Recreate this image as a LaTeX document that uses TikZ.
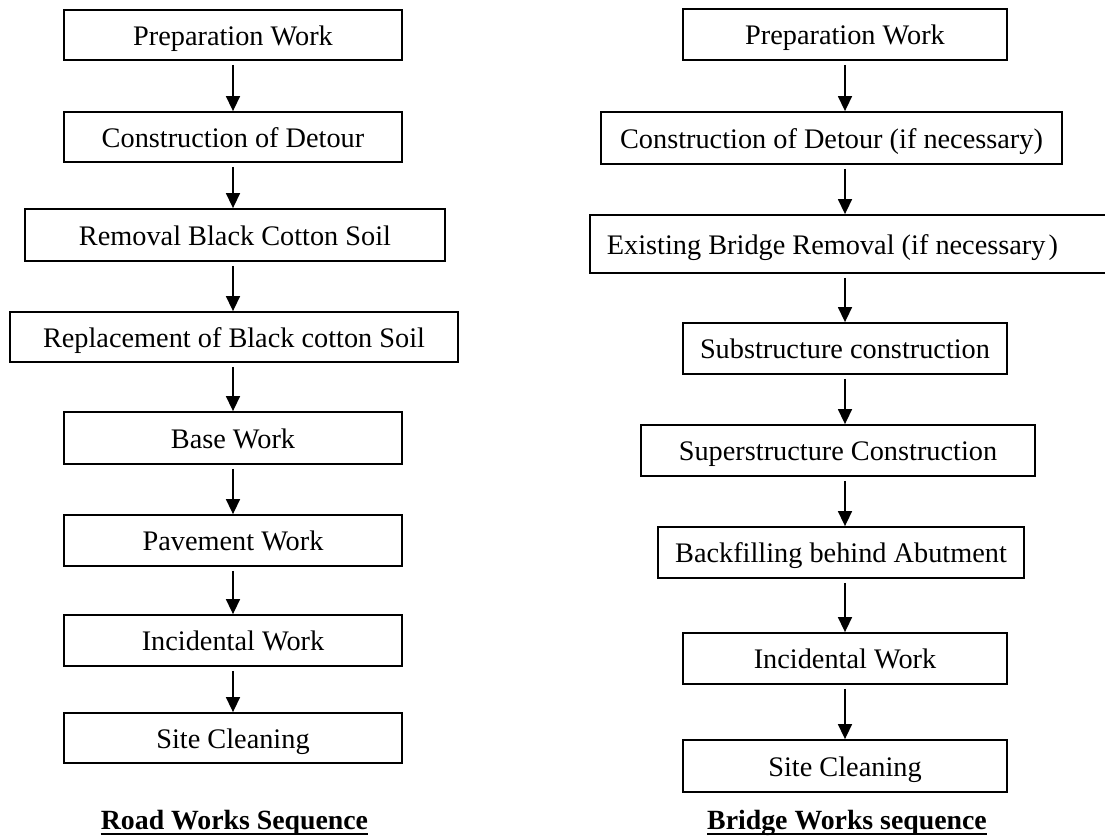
\documentclass[tikz,border=0pt]{standalone}
\usepackage{fontspec}
\setmainfont{Liberation Serif}
\usetikzlibrary{arrows.meta}
\begin{document}
\begin{tikzpicture}[x=1pt,y=-1pt]
\tikzset{
  box/.style={draw, line width=1.8pt, rectangle, inner sep=0pt,
    text height=21pt, text depth=1pt, font=\fontsize{28.3}{34}\selectfont},
  arr/.style={line width=1.5pt, -{Triangle[width=14pt,length=15pt]}, shorten <=4pt},
  ttl/.style={font=\fontsize{27.8}{34}\selectfont\bfseries, inner sep=0pt, anchor=base},
  uline/.style={line width=1.5pt}
}
\useasboundingbox (0,0) rectangle (1105,836);
\clip (0,0) rectangle (1105,836);
\coordinate (cl) at (233,0);
\coordinate (cr) at (845,0);
% left column
\node[box, minimum width=338pt, minimum height=50pt] (L1) at (233,35) {Preparation Work};
\node[box, minimum width=338pt, minimum height=50pt] (L2) at (233,137) {Construction of Detour};
\node[box, minimum width=420pt, minimum height=52pt] (L3) at (235,235) {Removal Black Cotton Soil};
\node[box, minimum width=448pt, minimum height=50pt] (L4) at (234,337) {Replacement of Black cotton Soil};
\node[box, minimum width=338pt, minimum height=52pt] (L5) at (233,438) {Base Work};
\node[box, minimum width=338pt, minimum height=51pt] (L6) at (233,540.5) {Pavement Work};
\node[box, minimum width=338pt, minimum height=51pt] (L7) at (233,640.5) {Incidental Work};
\node[box, minimum width=338pt, minimum height=50pt] (L8) at (233,738) {Site Cleaning};
\node[ttl] (TL) at (234.5,829) {Road Works Sequence};
\draw[uline] ([yshift=-5pt]TL.base west) -- ([yshift=-5pt]TL.base east);
\foreach \a/\b in {L1/L2,L2/L3,L3/L4,L4/L5,L5/L6,L6/L7,L7/L8}
  \draw[arr] (\a.south -| cl) -- (\b.north -| cl);
% right column
\node[box, minimum width=324pt, minimum height=51pt] (R1) at (845,34.5) {Preparation Work};
\node[box, minimum width=461pt, minimum height=52pt] (R2) at (831.5,138) {Construction of Detour (if necessary)};
\node[box, minimum width=531pt, minimum height=58pt, anchor=west, text width=497pt, align=flush left] (R3) at (589,244) {Existing Bridge Removal (if necessary\kern3pt)};
\node[box, minimum width=324pt, minimum height=51pt] (R4) at (845,348.5) {Substructure construction};
\node[box, minimum width=394pt, minimum height=51pt] (R5) at (838,450.5) {Superstructure Construction};
\node[box, minimum width=366pt, minimum height=51pt] (R6) at (841,552.5) {Backfilling behind Abutment};
\node[box, minimum width=324pt, minimum height=51pt] (R7) at (845,658.5) {Incidental Work};
\node[box, minimum width=324pt, minimum height=52pt] (R8) at (845,766) {Site Cleaning};
\node[ttl] (TR) at (847,829) {Bridge Works sequence};
\draw[uline] ([yshift=-5pt]TR.base west) -- ([yshift=-5pt]TR.base east);
\foreach \a/\b in {R1/R2,R2/R3,R3/R4,R4/R5,R5/R6,R6/R7,R7/R8}
  \draw[arr] (\a.south -| cr) -- (\b.north -| cr);
\end{tikzpicture}
\end{document}
